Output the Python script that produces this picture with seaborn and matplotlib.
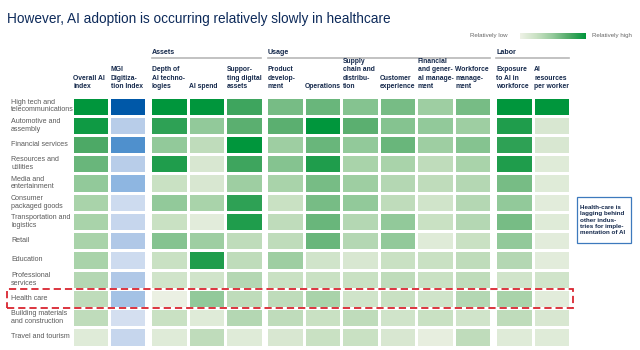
import numpy as np
import pandas as pd
import seaborn as sns
import matplotlib.pyplot as plt
from matplotlib.colors import LinearSegmentedColormap
from matplotlib.patches import Rectangle
from matplotlib.cm import ScalarMappable

industries = ["High tech and\ntelecommunications", "Automotive and\nassembly",
              "Financial services", "Resources and\nutilities", "Media and\nentertainment",
              "Consumer\npackaged goods", "Transportation and\nlogistics", "Retail",
              "Education", "Professional\nservices", "Health care",
              "Building materials\nand construction", "Travel and tourism"]

metrics = ["Overall AI\nindex", "MGI\nDigitiza-\ntion Index",
           "Depth of\nAI techno-\nlogies", "AI spend", "Suppor-\nting digital\nassets",
           "Product\ndevelop-\nment", "Operations", "Supply\nchain and\ndistribu-\ntion",
           "Customer\nexperience", "Financial\nand gener-\nal manage-\nment",
           "Workforce\nmanage-\nment",
           "Exposure\nto AI in\nworkforce", "AI\nresources\nper worker"]

# (group title, first column, last column + 1)
groups = [("", 0, 2), ("Assets", 2, 5), ("Usage", 5, 11), ("Labor", 11, 13)]

# relative shading, 0 = relatively low, 10 = relatively high
overall_ai   = [10, 9.5, 7.5, 6.5, 5, 4, 4, 4, 4, 3.5, 3, 3, 1]
mgi_index    = [10, 3, 7.5, 3, 5, 1.5, 2, 3.5, 1.5, 3.5, 4, 1, 2]
ai_depth     = [10, 8.5, 5, 9, 2.5, 5, 2.5, 5.5, 2.5, 2, 0.2, 2.5, 1]
ai_spend     = [10, 5, 3, 1.5, 1.5, 4, 0.8, 4.5, 9, 2, 5, 1, 3]
digital      = [8, 7, 10, 8, 4.5, 8.5, 9, 3, 3, 3.5, 3, 3.5, 1]
product_dev  = [6, 7, 4.5, 5.5, 4, 2.5, 3, 3, 4.5, 2.5, 3, 3, 1.5]
operations   = [6.5, 10, 6.5, 9, 6, 6, 6.5, 6.5, 2, 2.5, 4, 2.5, 2.5]
supply_chain = [5.5, 7, 5, 4, 4.5, 5, 3.5, 3.5, 1.5, 2.5, 2, 3, 2.5]
customer     = [6, 5.5, 6.5, 4, 3.5, 3, 5, 5, 2.5, 3, 2.5, 2, 1.5]
finance_mgmt = [4.5, 5, 4.5, 3, 3, 2, 2.5, 1, 2.5, 2.5, 2, 2.5, 0.5]
workforce    = [6, 4.5, 5.5, 4, 3.5, 3.5, 3.5, 2.5, 3, 3, 3.5, 2, 3]
ai_exposure  = [10, 9, 8.5, 9, 6, 5, 6, 5, 3.5, 2, 4, 3, 1]
ai_resources = [10, 1.5, 1.5, 1, 1, 0.8, 1, 0.8, 0.8, 2, 0.8, 1.5, 1]

df = pd.DataFrame(
    np.column_stack([overall_ai, mgi_index, ai_depth, ai_spend, digital, product_dev,
                     operations, supply_chain, customer, finance_mgmt, workforce,
                     ai_exposure, ai_resources]),
    index=industries, columns=metrics)

greens = LinearSegmentedColormap.from_list(
    "greens", ["#eef1e6", "#c9e1c3", "#93c99a", "#4ea966", "#00963c"])
blues = LinearSegmentedColormap.from_list(
    "blues", ["#e2e8f4", "#b3cae8", "#6aa3da", "#0058a8"])

navy = "#14284b"
W, H = 640, 350
plt.rcParams["font.family"] = ["Liberation Sans", "DejaVu Sans"]

fig = plt.figure(figsize=(6.4, 3.5), dpi=100)

# pixel extents of each column block
spans = [(72.0, 146.3), (150.4, 263.0), (266.0, 491.3), (494.7, 570.3)]
top, bottom = 96.5, 346.5

axes = []
for (name, c0, c1), (x0, x1) in zip(groups, spans):
    ax = fig.add_axes([x0 / W, 1 - bottom / H, (x1 - x0) / W, (bottom - top) / H])
    block = df.iloc[:, c0:c1]
    show_rows = industries if c0 == 0 else False
    if c0 == 0:
        mask = np.zeros(block.shape, dtype=bool)
        mask[:, 1] = True
        sns.heatmap(block, ax=ax, mask=mask, cmap=greens, vmin=0, vmax=10,
                    linewidths=2, linecolor="white", cbar=False,
                    xticklabels=False, yticklabels=show_rows)
        sns.heatmap(block, ax=ax, mask=~mask, cmap=blues, vmin=0, vmax=10,
                    linewidths=2, linecolor="white", cbar=False,
                    xticklabels=False, yticklabels=show_rows)
    else:
        sns.heatmap(block, ax=ax, cmap=greens, vmin=0, vmax=10,
                    linewidths=2, linecolor="white", cbar=False,
                    xticklabels=False, yticklabels=show_rows)
    for coll in ax.collections:
        coll.set_clip_on(False)
    ax.set_xlabel("")
    ax.set_ylabel("")
    ax.tick_params(length=0)

    # column headers
    for j, lab in enumerate(block.columns):
        ax.text(j + 0.04, -0.33, lab, ha="left", va="bottom", fontsize=4.9,
                fontweight="bold", color=navy, linespacing=1.3)
    # group title with rule underneath
    if name:
        ax.text(0.04, -2.28, name, ha="left", va="center", fontsize=5.1,
                fontweight="bold", color=navy)
        ax.plot([0.04, (c1 - c0) - 0.04], [-1.98, -1.98], color="#b8b8b8", lw=1.2,
                clip_on=False)
    axes.append(ax)

ax0 = axes[0]
ax0.set_yticklabels(industries, rotation=0, ha="left", fontsize=5.1, color="#5a5a5a",
                    linespacing=1.15)
ax0.tick_params(axis="y", pad=(72 - 11) * 0.72)

# title
fig.text(7 / W, 1 - 19 / H, "However, AI adoption is occurring relatively slowly in healthcare",
         fontsize=9.8, color="#0d2a5a", ha="left", va="center")

# legend gradient
cax = fig.add_axes([520 / W, 1 - 38.7 / H, 65.7 / W, 6 / H])
cb = fig.colorbar(ScalarMappable(cmap=greens), cax=cax, orientation="horizontal")
cb.set_ticks([])
cb.outline.set_visible(False)
fig.text(508 / W, 1 - 35.7 / H, "Relatively low", fontsize=4.4, color="#666666",
         ha="right", va="center")
fig.text(591.5 / W, 1 - 35.7 / H, "Relatively high", fontsize=4.4, color="#666666",
         ha="left", va="center")

# highlight of the health care row
row = industries.index("Health care")
y0 = top + row * (bottom - top) / len(industries)
y1 = y0 + (bottom - top) / len(industries)
fig.patches.append(Rectangle((7 / W, 1 - y1 / H), (573 - 7) / W, (y1 - y0) / H,
                             transform=fig.transFigure, fill=False,
                             edgecolor="#d92530", lw=1.3, linestyle=(0, (4, 2.2))))

# call-out box
fig.patches.append(Rectangle((577 / W, 1 - 243 / H), 54 / W, 46 / H,
                             transform=fig.transFigure, facecolor="white",
                             edgecolor="#3d79bd", lw=0.9))
fig.text(580 / W, 1 - 220 / H,
         "Health-care is\nlagging behind\nother indus-\ntries for imple-\nmentation of AI",
         fontsize=4.5, fontweight="bold", color=navy, ha="left", va="center",
         linespacing=1.3)

fig.savefig("out.png", dpi=100)
